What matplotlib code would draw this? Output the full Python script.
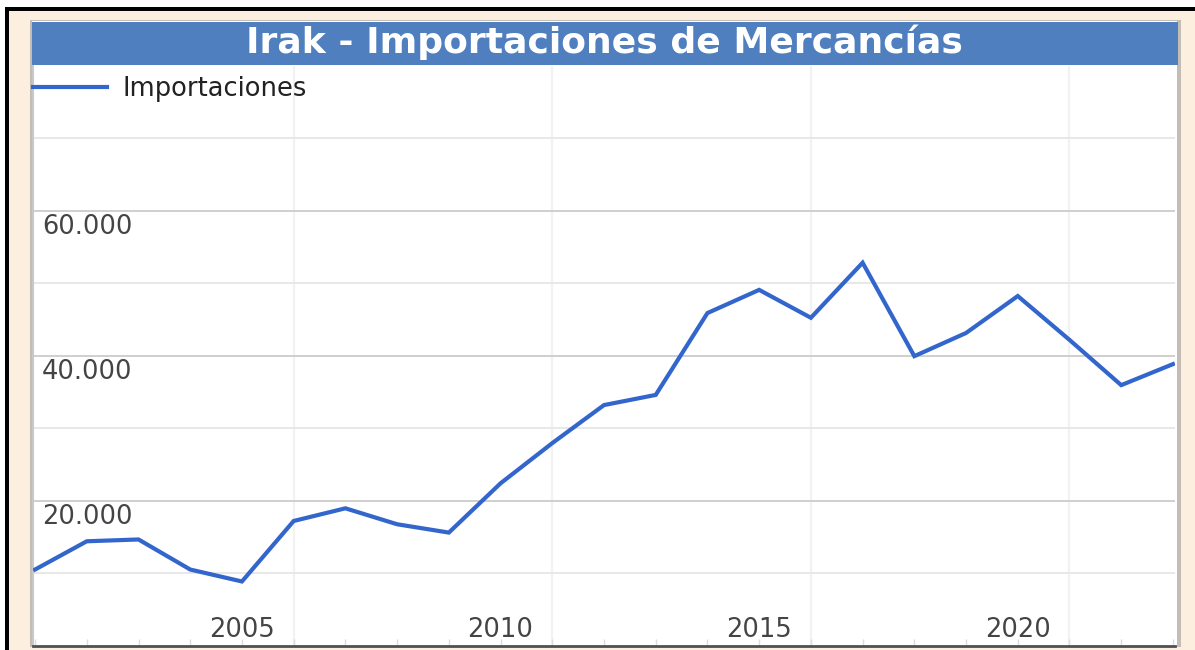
import matplotlib
matplotlib.use("Agg")
import matplotlib.pyplot as plt
from matplotlib.patches import Rectangle
from matplotlib.transforms import ScaledTranslation
from matplotlib.ticker import FixedLocator

# ---- data ----
years = [2001, 2002, 2003, 2004, 2005, 2006, 2007, 2008, 2009, 2010, 2011, 2012,
         2013, 2014, 2015, 2016, 2017, 2018, 2019, 2020, 2021, 2022, 2023]
imports = [10500, 14400, 14650, 10500, 8850, 17200, 18950, 16750, 15600, 22400,
           27950, 33200, 34600, 45900, 49100, 45250, 52850, 39950, 43150, 48250,
           42200, 35950, 38850]
series_name = "Importaciones"
title = "Irak - Importaciones de Mercancías"
x_label_years = [2005, 2010, 2015, 2020]
y_label_values = [20000, 40000, 60000]
y_label_texts = ["20.000", "40.000", "60.000"]
y_minor_values = [10000, 30000, 50000, 70000]
x_grid_years = [2006, 2011, 2016, 2021]

W, H = 1195, 650
fig = plt.figure(figsize=(W / 100, H / 100), dpi=100, facecolor="white")
plt.rcParams['font.family'] = ['DejaVu Sans']
FS = 18.5

# ---- background / frame in pixel coordinates ----
bg = fig.add_axes([0, 0, 1, 1], zorder=0)
bg.set_xlim(0, W)
bg.set_ylim(H, 0)
bg.axis("off")
bg.add_patch(Rectangle((9, 11), W - 9, H - 11, facecolor="#FDEFE0", edgecolor="none"))
bg.add_patch(Rectangle((5, 7), 4, H - 7, facecolor="black", edgecolor="none"))
bg.add_patch(Rectangle((5, 7), W - 5, 4, facecolor="black", edgecolor="none"))
# panel shadow / border
bg.add_patch(Rectangle((30, 20), 1151, 627, facecolor="#C4BDB5", edgecolor="none"))
bg.add_patch(Rectangle((32, 21), 1145, 625, facecolor="white", edgecolor="none"))
# title bar
bg.add_patch(Rectangle((32, 22), 1146, 43, facecolor="#4F7FBE", edgecolor="none"))
bg.text(604, 53, title, color="white", fontsize=26, fontweight="bold",
        ha="center", va="baseline")

# ---- main plot ----
left, right, top, bottom = 33, 1175, 66, 645.6
ax = fig.add_axes([left / W, (H - bottom) / H, (right - left) / W, (bottom - top) / H],
                  zorder=1)
ax.set_facecolor("white")
ax.set_xlim(2000.96, 2023.04)
ax.set_ylim(0, 80000)

for xg in x_grid_years:
    ax.axvline(xg, color="#F2F2F2", lw=1.6, zorder=0)

ax.set_yticks(y_label_values)
ax.set_yticklabels(y_label_texts)
ax.yaxis.set_minor_locator(FixedLocator(y_minor_values))
ax.grid(which="major", axis="y", color="#CCCCCC", lw=1.3, zorder=0)
ax.grid(which="minor", axis="y", color="#E6E6E6", lw=1.3, zorder=0)
ax.tick_params(axis="y", which="both", length=0, pad=-6.5, labelsize=FS,
               labelcolor="#444444")

ax.set_xticks(x_label_years)
ax.set_xticklabels([str(y) for y in x_label_years])
ax.xaxis.set_minor_locator(FixedLocator(years))
ax.tick_params(axis="x", which="both", direction="in", length=5, color="#DDDDDD",
               width=1)
ax.tick_params(axis="x", which="major", pad=-6.2, labelsize=FS, labelcolor="#444444")

ax.plot(years, imports, color="#3366CC", lw=3, solid_joinstyle="miter",
        label=series_name, zorder=3)

for s in ["top", "right"]:
    ax.spines[s].set_visible(False)
ax.spines["left"].set_color("#C8C8C8")
ax.spines["left"].set_linewidth(1.5)
ax.spines["bottom"].set_color("#505050")
ax.spines["bottom"].set_linewidth(2)

px_per_fs = FS * 100 / 72
leg = ax.legend(loc="center left", bbox_to_anchor=(0, 1 - 23 / (bottom - top)),
                frameon=False, fontsize=FS, handlelength=74 / px_per_fs,
                handletextpad=15 / px_per_fs, borderpad=0, borderaxespad=0)
for t in leg.get_texts():
    t.set_color("#222222")

for lab in ax.get_yticklabels():
    lab.set_ha("left")
    lab.set_va("baseline")
    lab.set_transform(lab.get_transform() + ScaledTranslation(0, -0.233, fig.dpi_scale_trans))
for lab in ax.get_xticklabels():
    lab.set_va("baseline")

fig.savefig("out.png", dpi=100, facecolor="white")
